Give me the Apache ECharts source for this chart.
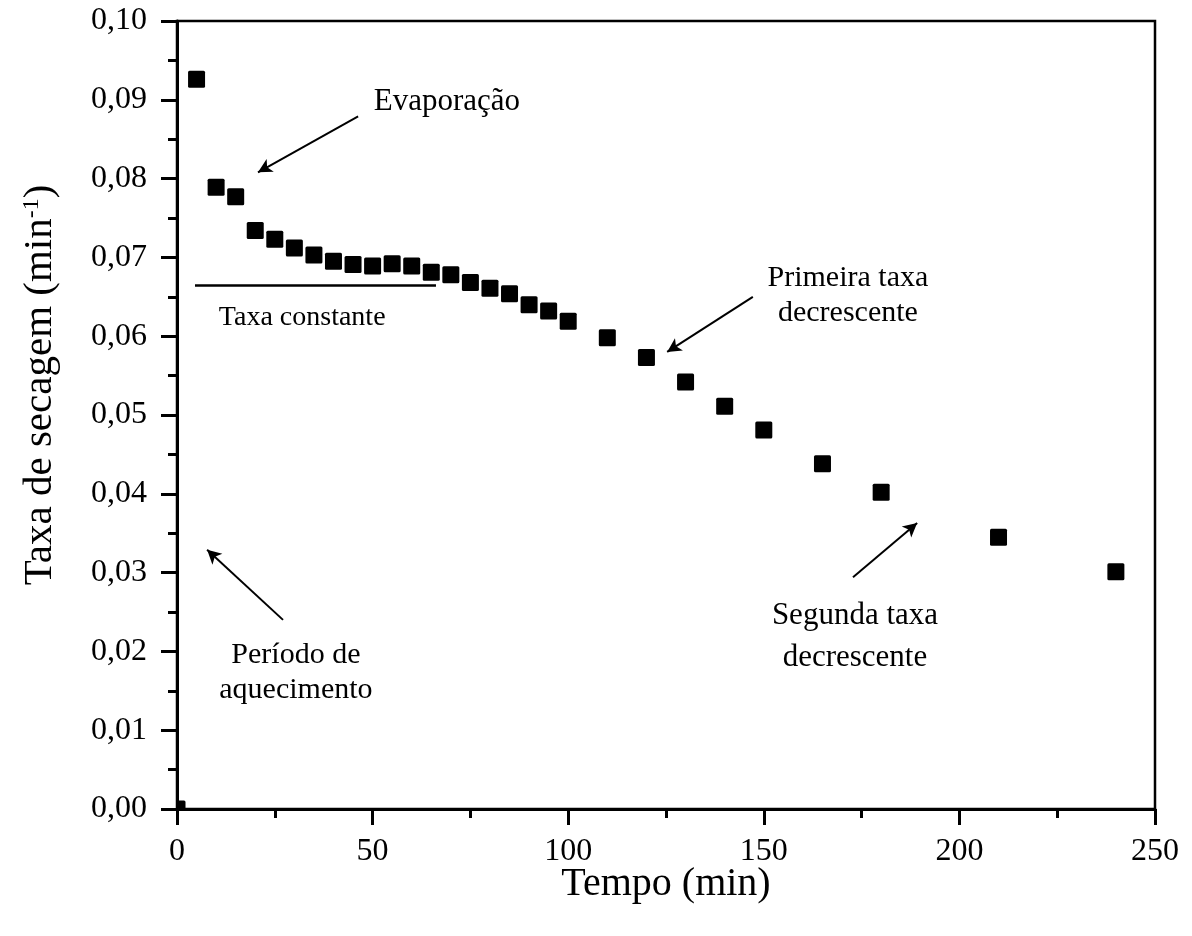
<!DOCTYPE html>
<html>
<head>
<meta charset="utf-8">
<script src="https://cdn.jsdelivr.net/npm/echarts@6/dist/echarts.min.js"></script>
<style>html,body{margin:0;padding:0;background:#fff}#c{width:1192px;height:936px}</style>
</head>
<body>
<div id="c"></div>
<script>
// Data
const tempo = [0, 5, 10, 15, 20, 25, 30, 35, 40, 45, 50, 55, 60, 65, 70, 75, 80, 85, 90, 95, 100, 110, 120, 130, 140, 150, 165, 180, 210, 240];
const taxa = [0.0000, 0.0926, 0.0789, 0.0777, 0.0734, 0.0723, 0.0712, 0.0703, 0.0695, 0.0691, 0.0689, 0.0692, 0.0689, 0.0681, 0.0678, 0.0668, 0.0661, 0.0654, 0.0640, 0.0632, 0.0619, 0.0598, 0.0573, 0.0542, 0.0511, 0.0481, 0.0438, 0.0402, 0.0345, 0.0301];
const xTicks = [0, 50, 100, 150, 200, 250];
const yTicks = [0.00, 0.01, 0.02, 0.03, 0.04, 0.05, 0.06, 0.07, 0.08, 0.09, 0.10];

// Annotations (data coordinates)
const annotTexts = [
  {text: 'Evaporação', pos: [69, 0.0898]},
  {text: 'Taxa constante', pos: [32, 0.0623]},
  {text: 'Primeira taxa\ndecrescente', pos: [171.5, 0.0651]},
  {text: 'Segunda taxa\ndecrescente', pos: [173.3, 0.0219]},
  {text: 'Período de\naquecimento', pos: [30.4, 0.0173]}
];
const annotArrows = [
  [[46.3, 0.0879], [20.7, 0.0808]],
  [[147.2, 0.0650], [125.3, 0.0580]],
  [[172.8, 0.0294], [189.2, 0.0363]],
  [[27.1, 0.0240], [7.7, 0.0329]]
];
const constLine = [[4.6, 0.0665], [66.2, 0.0665]];

const FONT = 'Liberation Serif';
const annotFontSize = [31, 28, 30, 31, 30];
const annotLineHeight = [36, 36, 35, 42, 35];

const chart = echarts.init(document.getElementById('c'));
chart.setOption({
  animation: false,
  backgroundColor: '#fff',
  grid: {left: 177, right: 37, top: 21, bottom: 127, show: true, borderColor: '#000', borderWidth: 2.5},
  xAxis: {
    type: 'value', min: 0, max: 250, interval: 50,
    name: 'Tempo (min)', nameLocation: 'middle', nameGap: 55, nameMoveOverlap: false,
    nameTextStyle: {fontFamily: FONT, fontSize: 40, color: '#000'},
    axisLine: {show: true, lineStyle: {color: '#000', width: 3}},
    axisTick: {show: true, inside: false, length: 16, lineStyle: {color: '#000', width: 3}},
    minorTick: {show: true, splitNumber: 2, length: 9, lineStyle: {color: '#000', width: 3}},
    axisLabel: {fontFamily: FONT, fontSize: 32, color: '#000', margin: 27,
      formatter: v => xTicks.includes(v) ? String(v) : ''},
    splitLine: {show: false}
  },
  yAxis: {
    type: 'value', min: 0, max: 0.1, interval: 0.01,
    name: 'Taxa de secagem (min{sup|-1})', nameLocation: 'middle', nameGap: 116, nameRotate: 90,
    nameTextStyle: {fontFamily: FONT, fontSize: 41, color: '#000', padding: [0, 0, 0, 60],
      rich: {sup: {fontFamily: FONT, fontSize: 24, color: '#000', verticalAlign: 'top', padding: [0, 0, 16, 0]}}},
    axisLine: {show: true, lineStyle: {color: '#000', width: 3}},
    axisTick: {show: true, inside: false, length: 16, lineStyle: {color: '#000', width: 3}},
    minorTick: {show: true, splitNumber: 2, length: 9, lineStyle: {color: '#000', width: 3}},
    axisLabel: {fontFamily: FONT, fontSize: 32, color: '#000', margin: 30,
      formatter: v => {
        const t = yTicks.find(k => Math.abs(k - v) < 1e-9);
        return t === undefined ? '' : t.toFixed(2).replace('.', ',');
      }},
    splitLine: {show: false}
  },
  series: [
    {
      type: 'custom', name: 'Taxa',
      data: tempo.map((t, i) => [t, taxa[i]]),
      clip: true, z: 3,
      renderItem: (params, api) => {
        const p = api.coord([api.value(0), api.value(1)]);
        const s = 17;
        return {type: 'rect', shape: {x: p[0] - s / 2, y: p[1] - s / 2, width: s, height: s, r: 1.5},
          style: {fill: '#000'}};
      }
    },
    {
      type: 'scatter', name: 'annot',
      symbolSize: 0, silent: true,
      itemStyle: {opacity: 1, color: '#000'},
      data: annotTexts.map((a, i) => ({value: a.pos,
        label: {formatter: a.text, fontSize: annotFontSize[i], lineHeight: annotLineHeight[i]}})),
      label: {show: true, position: 'inside', fontFamily: FONT, color: '#000', align: 'center', verticalAlign: 'middle', opacity: 1},
      markLine: {
        silent: true, animation: false,
        symbol: ['none', 'arrow'], symbolSize: [11, 14],
        lineStyle: {color: '#000', width: 2, type: 'solid', opacity: 1},
        label: {show: false},
        data: annotArrows.map(a => [{coord: a[0]}, {coord: a[1]}]).concat([
          [{coord: constLine[0], symbol: 'none'}, {coord: constLine[1], symbol: 'none', lineStyle: {width: 2.5}}]
        ])
      }
    }
  ]
});
</script>
</body>
</html>
